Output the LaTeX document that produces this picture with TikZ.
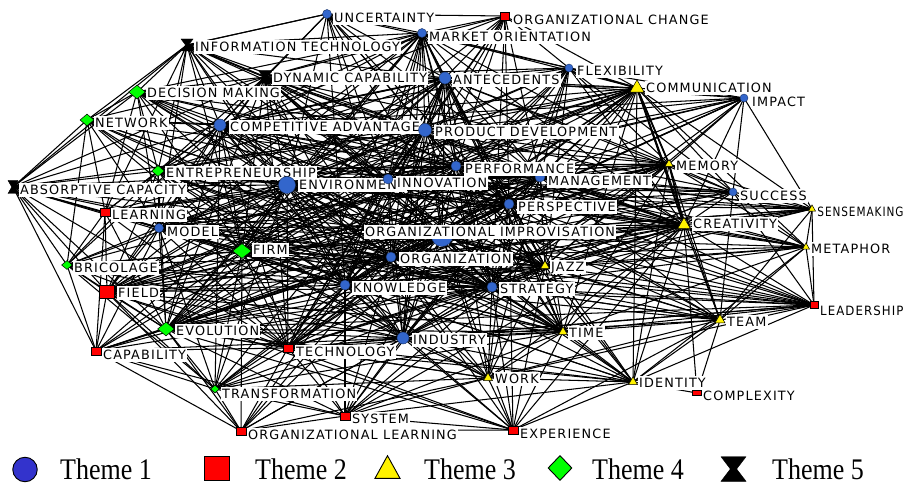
\documentclass[tikz,border=0pt]{standalone}
\usepackage{fontspec}
\usetikzlibrary{shapes.geometric}
\newfontfamily\labfont[LetterSpace=9]{DejaVu Sans}
\newfontfamily\legfont{Liberation Serif}
\definecolor{nblue}{RGB}{51,102,204}
\definecolor{lblue}{RGB}{51,51,204}
\definecolor{ngreen}{RGB}{0,255,0}
\newcommand\mylbl[4]{\node[lab] (#1-l) at ([xshift=#2pt,yshift={-(#3)*1pt}]#1) {#4};}
\newcommand\hglass[3]{\fill[hgs, shift={(#1)}] (-#2,-#3) -- (#2,-#3) -- (0.25*#2,0) -- (#2,#3) -- (-#2,#3) -- (-0.25*#2,0) -- cycle;}
\def\corelist{ant,prod,comp,env,inno,perf,mgmt,persp,oi,org,know,strat,ind,firm,crea,jazz,time,entr,dyn,mkt,model,evo,tech,comm,mem,field}
\begin{document}
\begin{tikzpicture}[x=1pt,y=-1pt,
 edge/.style={line width=1.05pt, black},
 thick edge/.style={line width=1.8pt, black},
 bc/.style={circle, fill=nblue, draw=nblue!50!black, line width=0.4pt, inner sep=0pt, minimum size=#1},
 rs/.style 2 args={rectangle, fill=red, draw=black, line width=0.5pt, inner sep=0pt, minimum width=#1, minimum height=#2},
 yt/.style={regular polygon, regular polygon sides=3, fill=yellow, draw=black, line width=0.5pt, inner sep=0pt, minimum size=#1},
 gd/.style 2 args={diamond, fill=ngreen, draw=black, line width=0.5pt, inner sep=0pt, minimum width=#1, minimum height=#2},
 hgs/.style={fill=black, draw=black, line width=0.4pt},
 lab/.style={fill=white, inner xsep=1.2pt, inner ysep=1.8pt, anchor=west, text height=9.3pt, text depth=0.6pt, font=\labfont\fontsize{12.8pt}{14pt}\selectfont},
 leg/.style={anchor=base west, inner sep=0pt, font=\legfont\fontsize{26pt}{30pt}\selectfont}
]
\useasboundingbox[fill=white] (0,0) rectangle (906,484);
% coordinates
\coordinate (unc) at (327,14);
\coordinate (ochg) at (505,16);
\coordinate (it) at (187,45);
\coordinate (mkt) at (422,33);
\coordinate (dyn) at (265,77);
\coordinate (ant) at (445,78);
\coordinate (flex) at (569,68);
\coordinate (comm) at (637,88);
\coordinate (imp) at (744,98);
\coordinate (dec) at (137,92);
\coordinate (net) at (87,120);
\coordinate (comp) at (220,125);
\coordinate (prod) at (425,130);
\coordinate (entr) at (158,171);
\coordinate (abs) at (13,187);
\coordinate (env) at (287,185);
\coordinate (inno) at (388,179);
\coordinate (perf) at (456,166);
\coordinate (mgmt) at (540,177);
\coordinate (mem) at (669,164);
\coordinate (succ) at (733,192);
\coordinate (sens) at (812,209);
\coordinate (lrn) at (105,212);
\coordinate (model) at (159,228);
\coordinate (persp) at (509,204);
\coordinate (crea) at (684,225);
\coordinate (oi) at (442,236);
\coordinate (meta) at (806,247);
\coordinate (bric) at (67,265);
\coordinate (firm) at (242,251);
\coordinate (org) at (391,257);
\coordinate (jazz) at (545,266);
\coordinate (field) at (107,292);
\coordinate (know) at (345,285);
\coordinate (strat) at (492,287);
\coordinate (lead) at (814,305);
\coordinate (team) at (720,320);
\coordinate (evo) at (166,329);
\coordinate (time) at (563,332);
\coordinate (ind) at (403,338);
\coordinate (cap) at (96,351);
\coordinate (tech) at (288,348);
\coordinate (work) at (488,378);
\coordinate (ident) at (633,382);
\coordinate (cplx) at (697,393);
\coordinate (trans) at (215,389);
\coordinate (sys) at (345,416);
\coordinate (olrn) at (241,431);
\coordinate (exp) at (513,430);
% edges: dense core
\foreach \a [count=\i] in \corelist {
  \foreach \b [count=\j] in \corelist {
    \ifnum\i<\j \draw[edge] (\a) -- (\b);\fi
  }
}
% edges: peripheral
\foreach \a/\bs in {unc/{mkt,ant,prod,comp,dyn,it,perf,inno,ochg,flex,org,env,strat,mgmt,know,persp},
 ochg/{mkt,ant,prod,flex,comp,inno,perf,dyn,org,strat,mgmt,persp,comm,env,know},
 it/{dec,net,abs,dyn,comp,entr,mkt,ant,prod,inno,env,firm,model,lrn,know,perf,org,unc,oi},
 dec/{net,abs,comp,entr,env,firm,prod,ant,dyn,inno,know,org,model,perf,oi,mgmt,strat,lrn,mkt},
 net/{abs,entr,lrn,comp,firm,env,model,bric,know,inno,org,prod,oi,dyn,perf,strat},
 abs/{entr,lrn,bric,field,model,firm,comp,env,know,org,inno,cap,evo,oi,dyn,prod,tech,strat,perf},
 lrn/{bric,field,cap,model,firm,env,evo,know,org,inno,oi,entr,comp,tech,strat,prod,perf},
 bric/{field,cap,model,firm,evo,entr,env,oi,org,know,trans,comp,ind,tech,strat,inno},
 cap/{field,evo,trans,olrn,tech,firm,model,know,ind,org,oi,env,sys,strat,inno},
 trans/{evo,olrn,sys,tech,ind,field,firm,know,org,env,work,strat,oi,time,inno,model,comp},
 olrn/{sys,evo,tech,field,exp,ind,know,org,work,oi,firm,strat},
 sys/{tech,ind,work,exp,know,org,strat,evo,time,oi,firm,jazz,ident,crea,persp},
 exp/{work,ident,time,ind,strat,org,jazz,oi,tech,crea,team,know,evo,field,persp},
 work/{ident,time,ind,strat,jazz,know,org,oi,tech,crea,team,firm,env,evo,perf,persp,mgmt},
 ident/{time,team,crea,lead,meta,jazz,strat,ind,org,oi,mem,comm,perf,tech,know,firm,evo,persp},
 cplx/{team,ident,crea},
 team/{lead,crea,time,jazz,strat,oi,mem,comm,meta,sens,org,perf,succ,ind,know,firm,mgmt,persp,inno},
 lead/{meta,sens,crea,time,jazz,strat,oi,org,perf,persp,mgmt,work,succ,ind,know,firm,env,evo,tech,inno},
 meta/{sens,crea,succ,mem,jazz,oi,persp,mgmt,perf,org,strat,time,comm,inno,know},
 sens/{succ,crea,mem,imp,comm,oi,persp,mgmt,perf,jazz,org,inno,strat,firm,env,know},
 succ/{mem,crea,imp,comm,oi,persp,mgmt,perf,inno,prod,jazz,strat,env,ant,org,flex},
 imp/{comm,mem,crea,flex,prod,perf,mgmt,persp,oi,inno,ant,comp,jazz,strat,org,env},
 flex/{ant,mkt,comm,prod,mem,crea,perf,inno,mgmt,comp,dyn,env,persp,oi,org,jazz,strat,know}}{\foreach \b in \bs {\draw[edge] (\a) -- (\b);}}
% heavier ties
\foreach \a/\b in {comm/crea,comm/mem,ant/prod,prod/comp,oi/jazz,it/dyn,crea/mem,comm/flex,oi/persp,env/firm,mgmt/crea,prod/inno,ant/comp,oi/strat}{\draw[thick edge] (\a) -- (\b);}
% markers and labels
\node[bc=9pt] (unc-m) at (unc) {}; \mylbl{unc}{5.8}{4}{UNCERTAINTY}
\node[rs={9pt}{8pt}] (ochg-m) at (ochg) {}; \mylbl{ochg}{6.8}{4}{ORGANIZATIONAL CHANGE}
\node[bc=9pt] (mkt-m) at (mkt) {}; \mylbl{mkt}{5.8}{4}{MARKET ORIENTATION}
\hglass{it}{6}{6} \mylbl{it}{6.8}{2}{INFORMATION TECHNOLOGY}
\node[bc=8pt] (flex-m) at (flex) {}; \mylbl{flex}{6.8}{3}{FLEXIBILITY}
\hglass{dyn}{6.5}{6.5} \mylbl{dyn}{6.8}{1}{DYNAMIC CAPABILITY}
\node[bc=12pt] (ant-m) at (ant) {}; \mylbl{ant}{6.8}{2}{ANTECEDENTS}
\node[yt=16.2pt] (comm-m) at (comm) {}; \mylbl{comm}{7.8}{0}{COMMUNICATION}
\node[gd={17pt}{14pt}] (dec-m) at (dec) {}; \mylbl{dec}{8.8}{1}{DECISION MAKING}
\node[bc=8pt] (imp-m) at (imp) {}; \mylbl{imp}{6.8}{4}{IMPACT}
\node[gd={14pt}{12pt}] (net-m) at (net) {}; \mylbl{net}{6.8}{3}{NETWORK}
\node[bc=12pt] (comp-m) at (comp) {}; \mylbl{comp}{8.8}{2}{COMPETITIVE ADVANTAGE}
\node[bc=13pt] (prod-m) at (prod) {}; \mylbl{prod}{8.8}{2}{PRODUCT DEVELOPMENT}
\node[yt=9.2pt] (mem-m) at (mem) {}; \mylbl{mem}{5.8}{2}{MEMORY}
\node[bc=10pt] (mgmt-m) at (mgmt) {}; \mylbl{mgmt}{6.8}{4}{MANAGEMENT}
\node[bc=10pt] (perf-m) at (perf) {}; \mylbl{perf}{7.8}{3}{PERFORMANCE}
\node[gd={13pt}{11pt}] (entr-m) at (entr) {}; \mylbl{entr}{6.8}{2}{ENTREPRENEURSHIP}
\node[bc=17pt] (env-m) at (env) {}; \mylbl{env}{10.8}{0}{ENVIRONMENT}
\node[bc=10pt] (inno-m) at (inno) {}; \mylbl{inno}{7.8}{4}{INNOVATION}
\hglass{abs}{5}{6.5} \mylbl{abs}{5.8}{3}{ABSORPTIVE CAPACITY}
\node[bc=8pt] (succ-m) at (succ) {}; \mylbl{succ}{5.8}{4}{SUCCESS}
\node[yt=8.1pt] (sens-m) at (sens) {}; \mylbl{sens}{4.0}{3}{\scalebox{0.82}[1]{SENSEMAKING}}
\node[rs={10pt}{8pt}] (lrn-m) at (lrn) {}; \mylbl{lrn}{5.8}{3}{LEARNING}
\node[bc=10pt] (persp-m) at (persp) {}; \mylbl{persp}{7.8}{3}{PERSPECTIVE}
\node[bc=9pt] (model-m) at (model) {}; \mylbl{model}{6.8}{4}{MODEL}
\node[yt=15pt] (crea-m) at (crea) {}; \mylbl{crea}{7.8}{-1}{CREATIVITY}
\node[bc=21pt] (oi-m) at (oi) {}; \mylbl{oi}{-78.2}{-4}{ORGANIZATIONAL IMPROVISATION}
\node[yt=8.1pt] (meta-m) at (meta) {}; \mylbl{meta}{3.8}{2}{METAPHOR}
\node[gd={19pt}{15pt}] (firm-m) at (firm) {}; \mylbl{firm}{9.8}{-1}{FIRM}
\node[gd={11pt}{9pt}] (bric-m) at (bric) {}; \mylbl{bric}{5.8}{3}{BRICOLAGE}
\node[bc=10pt] (org-m) at (org) {}; \mylbl{org}{7.8}{2}{ORGANIZATION}
\node[yt=10.4pt] (jazz-m) at (jazz) {}; \mylbl{jazz}{4.8}{1}{JAZZ}
\node[bc=10pt] (know-m) at (know) {}; \mylbl{know}{6.8}{3}{KNOWLEDGE}
\node[bc=10pt] (strat-m) at (strat) {}; \mylbl{strat}{6.8}{2}{STRATEGY}
\node[rs={15pt}{13pt}] (field-m) at (field) {}; \mylbl{field}{9.8}{1}{FIELD}
\node[rs={8pt}{7pt}] (lead-m) at (lead) {}; \mylbl{lead}{4.8}{6}{\scalebox{0.92}[1]{LEADERSHIP}}
\node[yt=11.5pt] (team-m) at (team) {}; \mylbl{team}{5.8}{2}{TEAM}
\node[gd={17pt}{14pt}] (evo-m) at (evo) {}; \mylbl{evo}{8.8}{2}{EVOLUTION}
\node[yt=10.4pt] (time-m) at (time) {}; \mylbl{time}{4.8}{1}{TIME}
\node[bc=12pt] (ind-m) at (ind) {}; \mylbl{ind}{8.8}{2}{INDUSTRY}
\node[rs={10pt}{8pt}] (cap-m) at (cap) {}; \mylbl{cap}{5.8}{4}{CAPABILITY}
\node[rs={10pt}{8pt}] (tech-m) at (tech) {}; \mylbl{tech}{6.8}{4}{TECHNOLOGY}
\node[yt=10.4pt] (work-m) at (work) {}; \mylbl{work}{5.8}{1}{WORK}
\node[yt=10.4pt] (ident-m) at (ident) {}; \mylbl{ident}{4.8}{1}{IDENTITY}
\node[rs={9pt}{5pt}] (cplx-m) at (cplx) {}; \mylbl{cplx}{4.8}{3}{COMPLEXITY}
\node[gd={9pt}{8pt}] (trans-m) at (trans) {}; \mylbl{trans}{5.8}{5}{TRANSFORMATION}
\node[rs={10pt}{8pt}] (sys-m) at (sys) {}; \mylbl{sys}{5.8}{3}{SYSTEM}
\node[rs={10pt}{8pt}] (olrn-m) at (olrn) {}; \mylbl{olrn}{5.8}{4}{ORGANIZATIONAL LEARNING}
\node[rs={10pt}{8pt}] (exp-m) at (exp) {}; \mylbl{exp}{5.8}{4}{EXPERIENCE}
% legend
\node[circle, fill=lblue, draw=black, line width=0.9pt, minimum size=24.5pt, inner sep=0pt] (lg1) at (25,469.5) {};
\node[leg] (lt1) at (60,479) {\scalebox{1}[1.15]{Theme 1}};
\node[rectangle, fill=red, draw=black, line width=0.9pt, minimum width=25pt, minimum height=24pt, inner sep=0pt] (lg2) at (217,468) {};
\node[leg] (lt2) at (255,479) {\scalebox{1}[1.15]{Theme 2}};
\coordinate (lg3) at (387.5,467);
\filldraw[fill=yellow, draw=black, line width=0.9pt, shift={(lg3)}] (-12.5,11.3) -- (12.5,11.3) -- (0,-11.3) -- cycle;
\node[leg] (lt3) at (424,479) {\scalebox{1}[1.15]{Theme 3}};
\node[diamond, fill=ngreen, draw=black, line width=0.9pt, minimum width=24pt, minimum height=25pt, inner sep=0pt] (lg4) at (560,468) {};
\node[leg] (lt4) at (592,479) {\scalebox{1}[1.15]{Theme 4}};
\coordinate (lg5) at (733.5,469);
\hglass{lg5}{12.5}{12.3}
\node[leg] (lt5) at (772,479) {\scalebox{1}[1.15]{Theme 5}};
\end{tikzpicture}
\end{document}
